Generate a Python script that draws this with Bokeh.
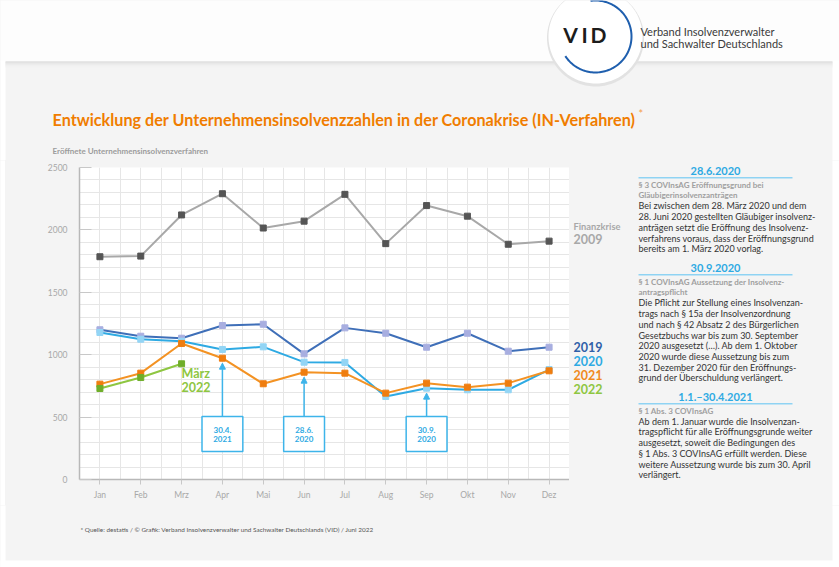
import numpy as np
from bokeh.plotting import figure
from bokeh.layouts import column, row
from bokeh.models import (Label, Arrow, NormalHead, FixedTicker, SingleIntervalTicker, Range1d)
from bokeh.embed import file_html
from bokeh.resources import INLINE

# ---------------- data ----------------
months = ["Jan", "Feb", "Mrz", "Apr", "Mai", "Jun", "Jul", "Aug", "Sep", "Okt", "Nov", "Dez"]
v2009 = [1785, 1790, 2120, 2290, 2015, 2070, 2285, 1890, 2195, 2110, 1885, 1910]
v2019 = [1200, 1148, 1132, 1234, 1244, 1007, 1215, 1172, 1060, 1172, 1028, 1060]
v2020 = [1178, 1124, 1108, 1042, 1063, 940, 938, 665, 732, 719, 719, 881]
v2021 = [764, 852, 1090, 972, 767, 860, 852, 692, 772, 740, 772, 871]
v2022 = [729, 817, 927]
y_ticks = [0, 500, 1000, 1500, 2000, 2500]

callout_months = [3, 5, 8]
callout_text = [("30.4.", "2021"), ("28.6.", "2020"), ("30.9.", "2020")]
callout_target = [v2021[3], v2021[5], v2020[8]]

FONT = "Lato"
PANEL = "#f4f4f4"
x_idx = list(range(len(months)))

# ---------------- main chart ----------------
p = figure(width=564, height=345, x_range=(-0.5, 11.5), y_range=(0, 2500),
           output_backend="svg", toolbar_location=None, frame_align=False,
           min_border_left=74, min_border_right=0, min_border_top=7, min_border_bottom=26)
p.background_fill_color = "white"
p.border_fill_color = PANEL
p.outline_line_color = None

p.yaxis.ticker = SingleIntervalTicker(interval=500, num_minor_ticks=5)
p.yaxis.major_tick_in = 12
p.yaxis.major_tick_out = 0
p.yaxis.minor_tick_line_color = None
p.xaxis.ticker = FixedTicker(ticks=x_idx, minor_ticks=[i - 0.5 for i in range(13)])
p.xaxis.major_label_overrides = {i: m for i, m in enumerate(months)}
p.xaxis.major_tick_out = 5
p.xaxis.major_tick_in = 0
p.xaxis.minor_tick_line_color = None
for ax in (p.xaxis, p.yaxis):
    ax.axis_line_color = "#b8b8b8"
    ax.axis_line_width = 1.5
    ax.major_tick_line_color = "#c8c8c8"
    ax.major_label_text_color = "#a8a8a8"
    ax.major_label_text_font = FONT
    ax.major_label_text_font_size = "8.5px"
p.yaxis.major_label_standoff = 8
p.xaxis.major_label_standoff = 5
for g in (p.xgrid, p.ygrid):
    g.grid_line_color = "#e6e6e6"
    g.minor_grid_line_color = "#e6e6e6"

series = [
    (v2009, "#a8a8a8", "#555555"),
    (v2019, "#3f6fb8", "#a8aee0"),
    (v2020, "#2eaae3", "#93d5f5"),
    (v2021, "#f39223", "#ef7d0f"),
    (v2022, "#8ec641", "#6fae2a"),
]
for vals, lc, mc in series:
    xs = x_idx[:len(vals)]
    p.line(xs, vals, line_color=lc, line_width=2)
    p.scatter(xs, vals, marker="square", size=6, fill_color=mc, line_color=mc)

CB = "#3db4ea"
for m, (t1, t2), tgt in zip(callout_months, callout_text, callout_target):
    p.quad(left=m - 0.5, right=m + 0.5, bottom=225, top=505,
           fill_color="white", line_color=CB, line_width=1.5)
    p.add_layout(Arrow(end=NormalHead(size=6, fill_color=CB, line_color=CB),
                       x_start=m, y_start=505, x_end=m, y_end=tgt - 40,
                       line_color=CB, line_width=1.5))
    for t, yy in ((t1, 400), (t2, 328)):
        p.add_layout(Label(x=m, y=yy, text=t, text_align="center", text_baseline="middle",
                           text_font=FONT, text_font_style="bold", text_font_size="8px",
                           text_color="#2eaae3"))

p.add_layout(Label(x=2, y=850, text="März", text_baseline="middle", text_font=FONT,
                   text_font_style="bold", text_font_size="12.5px", text_color="#8ec641"))
p.add_layout(Label(x=2, y=745, text="2022", text_baseline="middle", text_font=FONT,
                   text_font_style="bold", text_font_size="12.5px", text_color="#8ec641"))


# ---------------- decoration panels (data coords == page pixels) ----------------
def deco(w, h, x0, y0, bg=PANEL):
    f = figure(width=w, height=h, x_range=Range1d(x0, x0 + w), y_range=Range1d(y0 + h, y0),
               x_axis_location=None, y_axis_location=None, toolbar_location=None,
               output_backend="svg", min_border=0, frame_align=False)
    f.grid.visible = False
    f.outline_line_color = None
    f.background_fill_color = bg
    f.border_fill_color = bg
    return f


def lab(f, X, Y, text, size, color, bold=False, align="left"):
    f.add_layout(Label(x=X, y=Y, text=text, text_align=align, text_baseline="middle",
                       text_font=FONT, text_font_style="bold" if bold else "normal",
                       text_font_size=size, text_color=color))


def rect(f, x0, x1, y0, y1, color):
    f.quad(left=x0, right=x1, top=y0, bottom=y1, fill_color=color, line_color=None)


# header (y 0..160)
h = deco(839, 160, 0, 0)
rect(h, -2, 841, -2, 61, "#fdfdfd")
rect(h, -2, 5, 60, 162, "white")
rect(h, 832, 841, 60, 162, "white")
for i, c in enumerate(["#d6d6d6", "#dfdfdf", "#e6e6e6", "#ebebeb", "#efefef", "#f2f2f2"]):
    rect(h, 5, 832, 61 + i, 62 + i, c)
cx, cy = 595, 36
th = np.linspace(0, 2 * np.pi, 160)
h.patch(cx + 48.5 * np.cos(th), cy + 1.5 + 48.5 * np.sin(th), fill_color="#e2e2e2", line_color=None)
h.patch(cx + 47 * np.cos(th), cy + 47 * np.sin(th), fill_color="#ffffff", line_color=None)
a = np.radians(np.linspace(98, -147, 120))
ro, ri = 37, 35
h.patch(np.concatenate([cx + ro * np.cos(a), (cx + ri * np.cos(a))[::-1]]),
        np.concatenate([cy - ro * np.sin(a), (cy - ri * np.sin(a))[::-1]]),
        fill_color="#1f5fae", line_color=None)
for ch, X in (("V", 570), ("I", 584), ("D", 598)):
    lab(h, X, 34, ch, "21px", "#1c1c1c", bold=True, align="center")
lab(h, 640, 31, "Verband Insolvenzverwalter", "11px", "#3a3a3a")
lab(h, 640, 43, "und Sachwalter Deutschlands", "11px", "#3a3a3a")
lab(h, 52, 119, "Entwicklung der Unternehmensinsolvenzzahlen in der Coronakrise (IN-Verfahren)",
    "16.2px", "#f07d00", bold=True)
lab(h, 638, 113, "*", "11px", "#f5a04a")
lab(h, 52, 150, "Eröffnete Unternehmensinsolvenzverfahren", "8px", "#9c9c9c", bold=True)

# left white margin strip (x 0..5)
lm = deco(5, 345, 0, 160, bg="white")

# right panel (x 569..839, y 160..505)
r = deco(270, 345, 569, 160)
rect(r, 832, 841, 158, 507, "white")
lab(r, 573, 226, "Finanzkrise", "9.3px", "#a8a8a8", bold=True)
lab(r, 573, 238, "2009", "12.5px", "#a8a8a8", bold=True)
for txt, Y, c in (("2019", 346, "#2f5fa8"), ("2020", 360, "#2eaae3"),
                  ("2021", 374, "#f08a1c"), ("2022", 388, "#8ec641")):
    lab(r, 573, Y, txt, "12.5px", c, bold=True)

TX = 638


def block(y_head, head, subs, body):
    lab(r, 715, y_head, head, "11px", "#2eaae3", bold=True, align="center")
    rect(r, TX, 792, y_head + 6.5, y_head + 8, "#8fd3f3")
    y = y_head + 14
    for s in subs:
        lab(r, TX, y, s, "8px", "#a0a0a0", bold=True)
        y += 10.7
    for b in body:
        lab(r, TX, y, b, "9px", "#333333")
        y += 10.7


block(170, "28.6.2020",
      ["§ 3 COVInsAG Eröffnungsgrund bei", "Gläubigerinsolvenzanträgen"],
      ["Bei zwischen dem 28. März 2020 und dem",
       "28. Juni 2020 gestellten Gläubiger insolvenz-",
       "anträgen setzt die Eröffnung des Insolvenz-",
       "verfahrens voraus, dass der Eröffnungsgrund",
       "bereits am 1. März 2020 vorlag."])
block(267, "30.9.2020",
      ["§ 1 COVInsAG Aussetzung der Insolvenz-", "antragspflicht"],
      ["Die Pflicht zur Stellung eines Insolvenzan-",
       "trags nach § 15a der Insolvenzordnung",
       "und nach § 42 Absatz 2 des Bürgerlichen",
       "Gesetzbuchs war bis zum 30. September",
       "2020 ausgesetzt (…). Ab dem 1. Oktober",
       "2020 wurde diese Aussetzung bis zum",
       "31. Dezember 2020 für den Eröffnungs-",
       "grund der Überschuldung verlängert."])
block(396, "1.1.–30.4.2021",
      ["§ 1 Abs. 3 COVInsAG"],
      ["Ab dem 1. Januar wurde die Insolvenzan-",
       "tragspflicht für alle Eröffnungsgrunde weiter",
       "ausgesetzt, soweit die Bedingungen des",
       "§ 1 Abs. 3 COVInsAG erfüllt werden. Diese",
       "weitere Aussetzung wurde bis zum 30. April",
       "verlängert."])

# footer (y 505..567)
ft = deco(839, 62, 0, 505)
rect(ft, -2, 5, 503, 569, "white")
rect(ft, 832, 841, 503, 569, "white")
rect(ft, -2, 841, 560, 569, "white")
lab(ft, 80, 529, "* Quelle: destatis / © Grafik: Verband Insolvenzverwalter und Sachwalter "
    "Deutschlands (VID) / Juni 2022", "6.4px", "#555555")

mid = row(lm, p, r, spacing=0, styles={"background-color": PANEL})
layout = column(h, mid, ft, spacing=0, styles={"background-color": PANEL})
open("out.html", "w").write(file_html(layout, INLINE))
